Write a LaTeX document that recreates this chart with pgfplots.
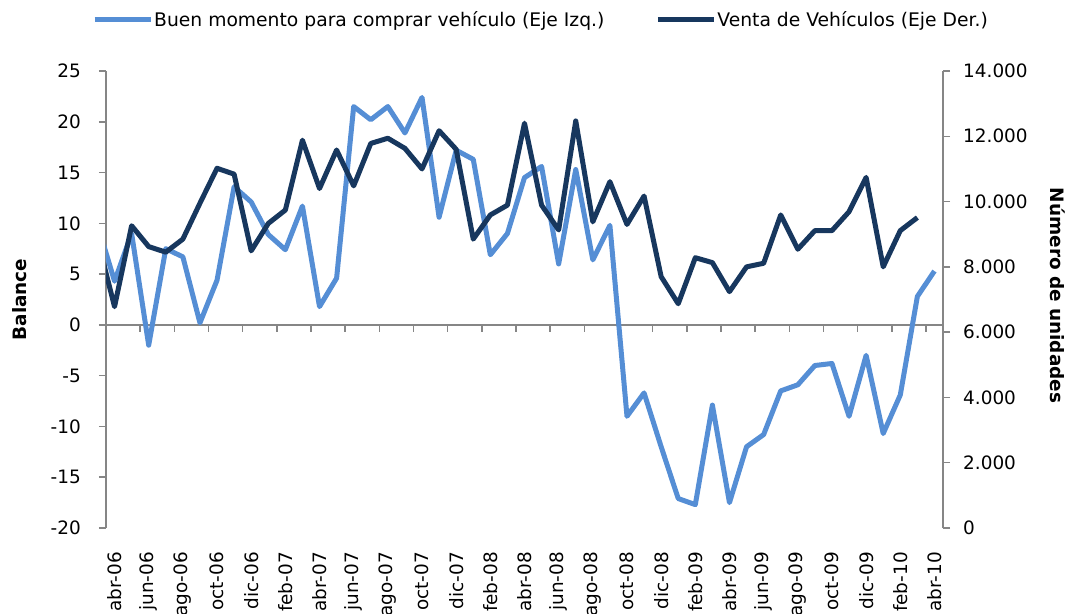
\documentclass[border=0pt]{standalone}
\usepackage{fontspec}
\setmainfont{DejaVu Sans}
\usepackage{pgfplots}
\usepackage{pgfplotstable}
\pgfplotsset{compat=1.18}
\definecolor{lblue}{HTML}{558ED5}
\definecolor{dblue}{HTML}{17375E}
\definecolor{axgray}{HTML}{868686}

\pgfplotstableread{
x y
-1 9.9
0 4.3
1 9.0
2 -2.0
3 7.5
4 6.7
5 0.2
6 4.4
7 13.6
8 12.1
9 8.9
10 7.4
11 11.7
12 1.8
13 4.6
14 21.5
15 20.2
16 21.5
17 18.9
18 22.4
19 10.6
20 17.2
21 16.3
22 6.9
23 9.0
24 14.5
25 15.6
26 6.0
27 15.3
28 6.4
29 9.8
30 -9.0
31 -6.7
32 -12.0
33 -17.1
34 -17.7
35 -7.9
36 -17.5
37 -12.0
38 -10.8
39 -6.5
40 -5.9
41 -4.0
42 -3.8
43 -9.0
44 -3.0
45 -10.7
46 -6.9
47 2.8
48 5.3
}\lighttab

\pgfplotstableread{
x y
-1 8850
0 6780
1 9260
2 8620
3 8450
4 8850
5 9950
6 11020
7 10840
8 8490
9 9330
10 9740
11 11880
12 10400
13 11580
14 10480
15 11780
16 11940
17 11630
18 11000
19 12170
20 11600
21 8850
22 9590
23 9890
24 12400
25 9890
26 9130
27 12470
28 9380
29 10610
30 9300
31 10170
32 7700
33 6870
34 8280
35 8130
36 7240
37 8000
38 8110
39 9590
40 8540
41 9110
42 9110
43 9690
44 10740
45 8000
46 9110
47 9510
}\darktab

\newcommand{\tf}{\fontsize{18.5}{22}\selectfont}
\newcommand{\lf}{\fontsize{18.8}{22}\selectfont}

\pgfplotsset{
  common/.style={
    scale only axis, width=837bp, height=457bp,
    xmin=-0.5, xmax=48.5,
    tick align=outside, major tick length=7bp,
    /pgf/number format/assume math mode=true,
    tick label style={font=\tf},
    axis line style={axgray, line width=1.5bp},
    every tick/.style={axgray, line width=1.5bp},
    scaled y ticks=false,
  }
}

\begin{document}
\begin{tikzpicture}
\begin{axis}[common, name=ax,
  ymin=-20, ymax=25, ytick={-20,-15,...,25},
  axis y line*=left,
  axis x line*=bottom,
  x axis line style={draw=none},
  xtick={0,2,...,48},
  xtick style={draw=none},
  xticklabels={abr-06,jun-06,ago-06,oct-06,dic-06,feb-07,abr-07,jun-07,ago-07,oct-07,dic-07,feb-08,abr-08,jun-08,ago-08,oct-08,dic-08,feb-09,abr-09,jun-09,ago-09,oct-09,dic-09,feb-10,abr-10},
  xticklabel style={yshift=-17bp, rotate=90, anchor=east, inner sep=0pt},
  yticklabel style={anchor=east, inner sep=0pt, xshift=-18bp},
  ylabel={Balance},
  every axis y label/.style={at={(axis description cs:0,0.5)}, xshift=-86.5bp, rotate=90, anchor=center, font=\tf\bfseries},
]
\draw[axgray, line width=1.5bp] (axis cs:-0.5,0) -- (axis cs:48.5,0);
\pgfplotsinvokeforeach{1.5,3.5,5.5,7.5,9.5,11.5,13.5,15.5,17.5,19.5,21.5,23.5,25.5,27.5,29.5,31.5,33.5,35.5,37.5,39.5,41.5,43.5,45.5,47.5}{
  \draw[axgray, line width=1.5bp] (axis cs:#1,0) -- ([yshift=-7bp]axis cs:#1,0);
}
\addplot[lblue, line width=5bp, line join=round] table[x=x,y=y] {\lighttab};
\end{axis}
\begin{axis}[common,
  ymin=0, ymax=14000, ytick={0,2000,...,14000},
  axis y line*=right,
  axis x line=none,
  /pgf/number format/.cd, 1000 sep={.}, /pgfplots/.cd,
  yticklabel style={anchor=west, inner sep=0pt, xshift=13bp},
  ylabel={Número de unidades},
  every axis y label/.style={at={(axis description cs:1,0.5)}, xshift=115bp, yshift=4bp, rotate=-90, anchor=center, font=\tf\bfseries},
  legend columns=2,
  legend image code/.code={\draw[#1] (0bp,0bp) -- (56bp,0bp);},
  legend style={at={(axis description cs:-0.0167,1.1116)}, anchor=west, draw=none, fill=none, inner sep=0pt, font=\lf, nodes={inner xsep=1bp, inner ysep=2bp}, /tikz/every even column/.append style={column sep=50bp}},
]
\addlegendimage{lblue, line width=5bp}
\addlegendentry{Buen momento para comprar vehículo (Eje Izq.)}
\addplot[dblue, line width=5bp, line join=round] table[x=x,y=y] {\darktab};
\addlegendentry{Venta de Vehículos (Eje Der.)}
\end{axis}
\pgfresetboundingbox
\path[use as bounding box] (ax.south west) ++(-106bp,-86bp) rectangle ++(1074bp,614bp);
\end{tikzpicture}
\end{document}
